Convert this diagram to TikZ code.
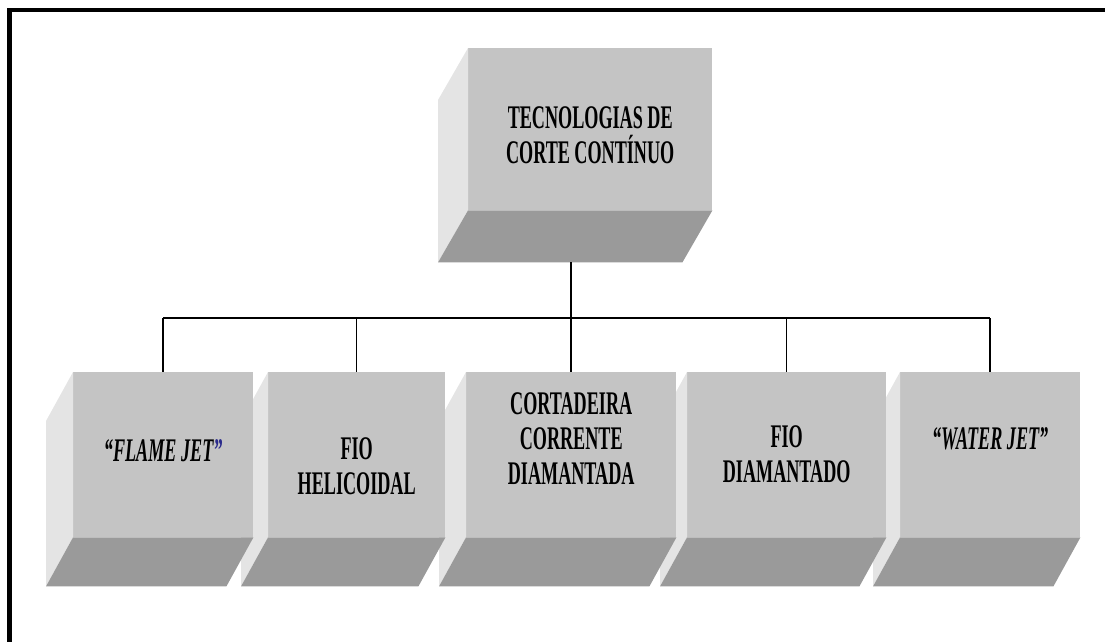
\documentclass[tikz,border=0pt]{standalone}
\usepackage{fontspec}
\newfontfamily\blocofont[FakeStretch=0.55]{Liberation Serif}
\usetikzlibrary{calc}

\newcommand{\faces}[3]{%
  \fill [lateral] (#1.north west) -- (#1.south west) -- ++(#2,#3) -- ($(#1.north west)+(#2,#3)$) -- cycle;
  \fill [base] (#1.south west) -- (#1.south east) -- ++(#2,#3) -- ($(#1.south west)+(#2,#3)$) -- cycle;}

\begin{document}
\begin{tikzpicture}[x=1pt,y=-1pt,
  frontal/.style={fill=frente,inner sep=0pt,anchor=north west,minimum height=165},
  lateral/.style={fill=ladoclaro},
  base/.style={fill=ladoescuro},
  rotulo/.style={font=\blocofont\bfseries\fontsize{33}{35}\selectfont,align=center,inner sep=0pt},
  ligacao/.style={line width=1.5pt}]
  \definecolor{frente}{HTML}{C4C4C4}
  \definecolor{ladoclaro}{HTML}{E4E4E4}
  \definecolor{ladoescuro}{HTML}{9A9A9A}
  \definecolor{aspas}{HTML}{2A2A8C}
  \useasboundingbox (0,0) rectangle (1105,641);
  \draw [line width=4.5pt] (9.5,645) -- (9.5,10) -- (1110,10);

  \node [frontal,minimum width=244,minimum height=162] (topo) at (468,48) {};
  \faces{topo}{-30}{52}

  \node [frontal,minimum width=180] (f5) at (900,372) {};
  \faces{f5}{-27}{49}
  \node [frontal,minimum width=199] (f4) at (687,372) {};
  \faces{f4}{-27}{49}
  \node [frontal,minimum width=210] (f3) at (466,372) {};
  \faces{f3}{-27}{49}
  \node [frontal,minimum width=177] (f2) at (268,372) {};
  \faces{f2}{-27}{49}
  \node [frontal,minimum width=180] (f1) at (73,372) {};
  \faces{f1}{-27}{49}

  \node [rotulo] (r0) at ([yshift=-6pt]topo.center) {TECNOLOGIAS DE\\CORTE CONTÍNUO};
  \node [rotulo] (r1) at ([yshift=4pt]f1.center) {\itshape “FLAME JET\textcolor{aspas}{”}};
  \node [rotulo] (r2) at ([yshift=-12pt]f2.center) {FIO\\HELICOIDAL};
  \node [rotulo] (r3) at ([yshift=16pt]f3.center) {CORTADEIRA\\CORRENTE\\DIAMANTADA};
  \node [rotulo] (r4) at (f4.center) {FIO\\DIAMANTADO};
  \node [rotulo] (r5) at ([yshift=16pt]f5.center) {\itshape “WATER JET”};

  \coordinate (topobase) at ($(topo.south west)+(-30,52)$);
  \coordinate (juncao) at (570,318);
  \draw [ligacao] (f3.north |- topobase) -- (f3.north |- juncao);
  \draw [line width=2.5pt] (f1.north |- juncao) -- (f5.north |- juncao);
  \foreach \n in {f1,f2,f3,f4,f5}
    \draw [ligacao] (\n.north |- juncao) -- (\n.north);
\end{tikzpicture}
\end{document}
